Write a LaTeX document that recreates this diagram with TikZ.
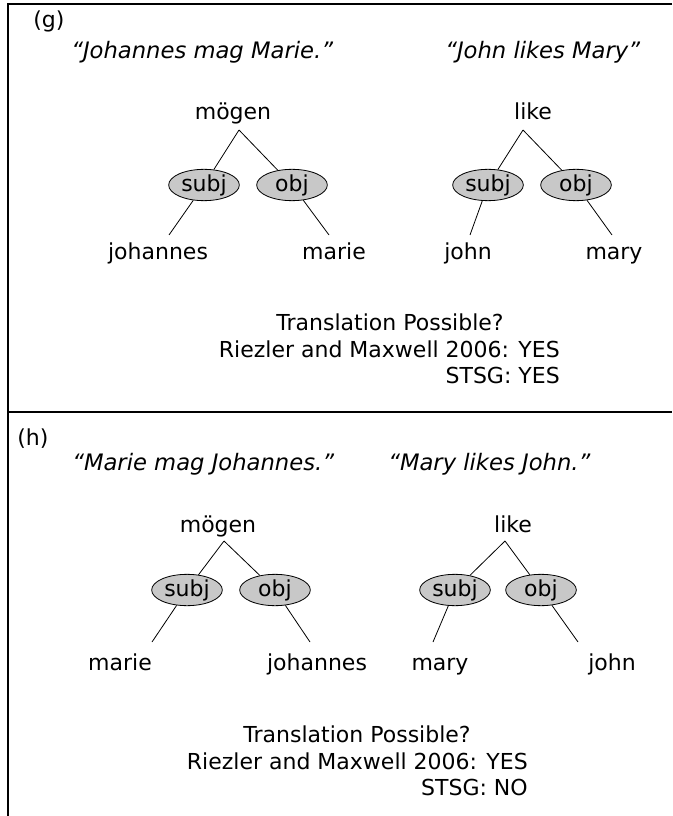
\documentclass[tikz,border=0pt]{standalone}
\usepackage{fontspec}
\setmainfont{DejaVu Sans}
\usetikzlibrary{shapes.geometric}
\definecolor{rolefill}{RGB}{200,200,200}

\begin{document}
\begin{tikzpicture}[x=0.75pt,y=-0.75pt,
  word/.style={anchor=base,inner sep=0pt,font=\fontsize{16.5}{19}\selectfont},
  label/.style={word,anchor=base west},
  quote/.style={anchor=base west,inner sep=0pt,font=\fontsize{17}{20}\selectfont\itshape},
  role/.style={ellipse,draw=black,line width=0.6pt,fill=rolefill,inner sep=0pt,
    minimum width=53pt,minimum height=23.5pt,font=\fontsize{16.5}{19}\selectfont},
  edge/.style={draw=black,line width=0.6pt},
  frame/.style={draw=black,line width=1pt}]
\useasboundingbox (0,0) rectangle (672,816);

% panel frame
\coordinate (fTL) at (8,4);
\coordinate (fTR) at (672,4);
\coordinate (fBL) at (8,816);
\coordinate (fML) at (8,412);
\coordinate (fMR) at (672,412);
\draw[frame] (fTR) -- (fTL) -- (fBL);
\draw[frame] (fML) -- (fMR);

% ---------- panel (g) ----------
\node[label] (gLab) at (33,28) {(g)};
\node[quote] (gQde) at (71,59) {“Johannes mag Marie.”};
\node[quote] (gQen) at (445,59) {“John likes Mary”};

\node[word] (gHeadDe) at (233,120) {mögen};
\coordinate (gApDe) at (239,130);
\node[role] (gSubjDe) at (204,185) {subj};
\node[role] (gObjDe) at (292,185) {obj};
\coordinate (gTipSubjDe) at (169,235);
\coordinate (gTipObjDe) at (329,235);
\node[word] (gJohannes) at (158,260) {johannes};
\node[word] (gMarie) at (334,260) {marie};
\draw[edge] (gApDe) -- (gSubjDe);
\draw[edge] (gApDe) -- (gObjDe);
\draw[edge] (gSubjDe) -- (gTipSubjDe);
\draw[edge] (gObjDe) -- (gTipObjDe);

\node[word] (gHeadEn) at (533,120) {like};
\coordinate (gApEn) at (523,130);
\node[role] (gSubjEn) at (488,185) {subj};
\node[role] (gObjEn) at (576,185) {obj};
\coordinate (gTipSubjEn) at (470,235);
\coordinate (gTipObjEn) at (612,235);
\node[word] (gJohn) at (468,260) {john};
\node[word] (gMary) at (614,260) {mary};
\draw[edge] (gApEn) -- (gSubjEn);
\draw[edge] (gApEn) -- (gObjEn);
\draw[edge] (gSubjEn) -- (gTipSubjEn);
\draw[edge] (gObjEn) -- (gTipObjEn);

\node[word] (gAsk) at (390,330) {Translation Possible?};
\node[word,anchor=base east] (gRM) at (560,357) {Riezler and Maxwell 2006: YES};
\node[word,anchor=base east] (gST) at (560,383) {STSG: YES};

% ---------- panel (h) ----------
\node[label] (hLab) at (17,445) {(h)};
\node[quote] (hQde) at (72,470) {“Marie mag Johannes.”};
\node[quote] (hQen) at (388,470) {“Mary likes John.”};

\node[word] (hHeadDe) at (218,532) {mögen};
\coordinate (hApDe) at (224,541);
\node[role] (hSubjDe) at (187,590) {subj};
\node[role] (hObjDe) at (275,590) {obj};
\coordinate (hTipSubjDe) at (152,642);
\coordinate (hTipObjDe) at (310,642);
\node[word] (hMarie) at (120,670) {marie};
\node[word] (hJohannes) at (317,670) {johannes};
\draw[edge] (hApDe) -- (hSubjDe);
\draw[edge] (hApDe) -- (hObjDe);
\draw[edge] (hSubjDe) -- (hTipSubjDe);
\draw[edge] (hObjDe) -- (hTipObjDe);

\node[word] (hHeadEn) at (513,532) {like};
\coordinate (hApEn) at (505,541);
\node[role] (hSubjEn) at (455,590) {subj};
\node[role] (hObjEn) at (541,590) {obj};
\coordinate (hTipSubjEn) at (433,642);
\coordinate (hTipObjEn) at (578,642);
\node[word] (hMary) at (440,670) {mary};
\node[word] (hJohn) at (612,670) {john};
\draw[edge] (hApEn) -- (hSubjEn);
\draw[edge] (hApEn) -- (hObjEn);
\draw[edge] (hSubjEn) -- (hTipSubjEn);
\draw[edge] (hObjEn) -- (hTipObjEn);

\node[word] (hAsk) at (357,742) {Translation Possible?};
\node[word,anchor=base east] (hRM) at (528,769) {Riezler and Maxwell 2006: YES};
\node[word,anchor=base east] (hST) at (528,795) {STSG: NO};
\end{tikzpicture}
\end{document}
